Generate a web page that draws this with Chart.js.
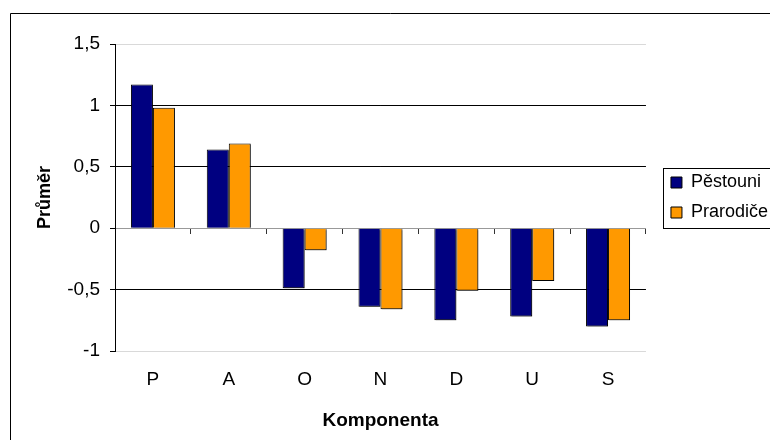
<!DOCTYPE html>
<html>
<head>
<meta charset="utf-8">
<script src="https://cdn.jsdelivr.net/npm/chart.js@4"></script>
<style>
  body { margin: 0; background: #fff; }
  canvas { display: block; }
</style>
</head>
<body>
<canvas id="chart" width="770" height="440"></canvas>
<script>
const components = ['P', 'A', 'O', 'N', 'D', 'U', 'S'];
const pestouni = [1.17, 0.64, -0.49, -0.64, -0.75, -0.72, -0.80];
const prarodice = [0.98, 0.69, -0.18, -0.66, -0.51, -0.43, -0.75];
const yTicks = [-1, -0.5, 0, 0.5, 1, 1.5];

const font = 'Liberation Sans, Arial, sans-serif';

// white page with the thin frame round the chart, and a box round the legend
const framePlugin = {
    id: 'frame',
    afterLayout(chart) {
        chart.legend.left += 13;
        chart.legend.right += 13;
    },
    beforeDraw(chart) {
        const ctx = chart.ctx;
        ctx.save();
        ctx.fillStyle = '#fff';
        ctx.fillRect(0, 0, chart.width, chart.height);
        ctx.strokeStyle = '#000';
        ctx.lineWidth = 1;
        ctx.beginPath();
        ctx.moveTo(10.5, chart.height + 5);
        ctx.lineTo(10.5, 13.5);
        ctx.lineTo(chart.width + 5, 13.5);
        ctx.stroke();
        ctx.restore();
    },
    beforeDatasetsDraw(chart) {
        const ctx = chart.ctx;
        ctx.save();
        ctx.shadowColor = 'rgba(0,0,0,0.35)';
        ctx.shadowOffsetX = 1.5;
        ctx.shadowOffsetY = 1.5;
    },
    afterDatasetsDraw(chart) {
        chart.ctx.restore();
    },
    afterDraw(chart) {
        const boxes = chart.legend.legendHitBoxes;
        if (!boxes || !boxes.length) return;
        const first = boxes[0];
        const last = boxes[boxes.length - 1];
        const ctx = chart.ctx;
        ctx.save();
        ctx.strokeStyle = '#000';
        ctx.lineWidth = 1;
        const x = Math.round(first.left - 8) + 0.5;
        const y = Math.round(first.top - 6) + 0.5;
        const b = Math.round(last.top + last.height + 6) + 0.5;
        ctx.strokeRect(x, y, chart.width + 10 - x, b - y);
        ctx.restore();
    }
};

new Chart(document.getElementById('chart'), {
    type: 'bar',
    data: {
        labels: components,
        datasets: [{
            label: 'Pěstouni',
            data: pestouni,
            backgroundColor: '#000080',
            borderColor: '#000',
            borderWidth: 1,
            categoryPercentage: 0.58,
            barPercentage: 1.0
        }, {
            label: 'Prarodiče',
            data: prarodice,
            backgroundColor: '#FF9900',
            borderColor: '#000',
            borderWidth: 1,
            categoryPercentage: 0.58,
            barPercentage: 1.0
        }]
    },
    options: {
        responsive: false,
        animation: false,
        layout: {
            padding: { left: 10, top: 44, right: 5, bottom: 0 }
        },
        plugins: {
            tooltip: { enabled: false },
            legend: {
                position: 'right',
                fullSize: false,
                labels: {
                    boxWidth: 11,
                    boxHeight: 11,
                    padding: 12,
                    color: '#000',
                    font: { family: font, size: 18 }
                }
            }
        },
        scales: {
            x: {
                grid: { display: false, drawTicks: false },
                border: { display: false },
                ticks: {
                    color: '#000',
                    padding: 17,
                    font: { family: font, size: 19 }
                },
                title: {
                    display: true,
                    text: 'Komponenta',
                    color: '#000',
                    padding: { top: 0, bottom: 8 },
                    font: { family: font, size: 19, weight: 'bold' }
                },
                afterFit(scale) { scale.height = 89; }
            },
            x2: {
                type: 'category',
                position: { y: 0 },
                offset: true,
                grid: {
                    offset: true,
                    drawOnChartArea: false,
                    tickLength: 5,
                    color: '#333'
                },
                border: { color: '#999', width: 1 },
                ticks: { display: false }
            },
            y: {
                min: -1,
                max: 1.5,
                afterBuildTicks(scale) {
                    scale.ticks = yTicks.map(v => ({ value: v }));
                },
                grid: {
                    color(ctx) {
                        const v = ctx.tick && ctx.tick.value;
                        if (v === 1.5 || v === -1) return '#d9d9d9';
                        if (v === 0) return '#999';
                        return '#000';
                    },
                    tickColor: '#000',
                    tickLength: 5
                },
                border: { color: '#000', width: 1 },
                ticks: {
                    color: '#000',
                    padding: 10,
                    font: { family: font, size: 19 },
                    callback: v => String(v).replace('.', ',')
                },
                title: {
                    display: true,
                    text: 'Průměr',
                    color: '#000',
                    padding: { top: 24, bottom: 0 },
                    font: { family: font, size: 18, weight: 'bold' }
                },
                afterFit(scale) { scale.width = 105; }
            }
        }
    },
    plugins: [framePlugin]
});
</script>
</body>
</html>
